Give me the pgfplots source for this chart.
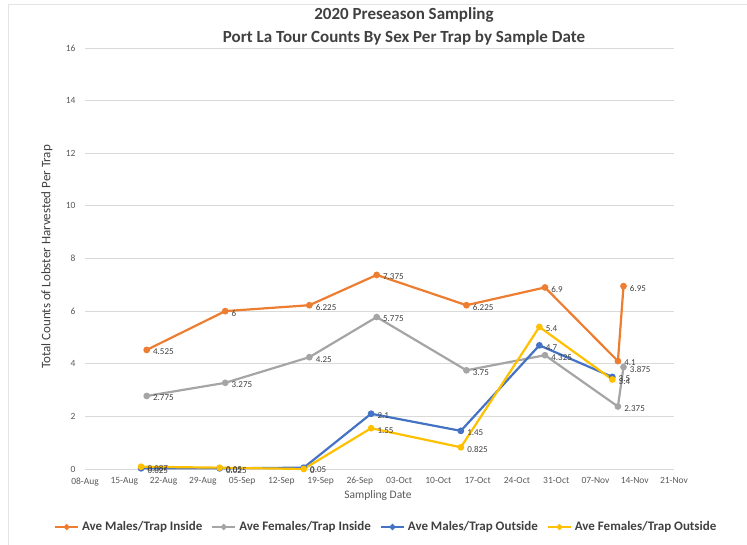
\documentclass[border=0pt]{standalone}
\usepackage{pgfplots}
\pgfplotsset{compat=1.18}
\usepackage{fontspec}
\setmainfont{Carlito}
\definecolor{cOr}{HTML}{ED7D31}
\definecolor{cGr}{HTML}{A5A5A5}
\definecolor{cBl}{HTML}{4472C4}
\definecolor{cYe}{HTML}{FFC000}
\definecolor{txt}{HTML}{595959}
\definecolor{dtxt}{HTML}{404040}
\definecolor{gridc}{HTML}{D9D9D9}
\begin{document}
\begin{tikzpicture}
\path[use as bounding box] (0,0) rectangle (747bp,545bp);
\draw[gridc!70, line width=0.6bp] (8bp,0) -- (8bp,541bp) -- (747bp,541bp);
\node[font=\fontsize{17bp}{18bp}\selectfont\bfseries, text=dtxt] at (404bp,530bp) {2020 Preseason Sampling};
\node[font=\fontsize{17bp}{18bp}\selectfont\bfseries, text=dtxt] at (404bp,507bp) {Port La Tour Counts By Sex Per Trap by Sample Date};
\node[font=\fontsize{13bp}{15bp}\selectfont, text=dtxt, rotate=90] at (47bp,288bp) {Total Counts of Lobster Harvested Per Trap};
\node[font=\fontsize{11.5bp}{13bp}\selectfont, text=txt] at (378bp,50bp) {Sampling Date};
\begin{axis}[
  at={(85bp,76bp)}, anchor=south west,
  scale only axis, width=589bp, height=421bp,
  xmin=0, xmax=105, ymin=0, ymax=16,
  xtick={0,7,...,105},
  xticklabels={08-Aug,15-Aug,22-Aug,29-Aug,05-Sep,12-Sep,19-Sep,26-Sep,03-Oct,10-Oct,17-Oct,24-Oct,31-Oct,07-Nov,14-Nov,21-Nov},
  ytick={0,2,...,16},
  /pgf/number format/assume math mode=true,
  axis line style={draw=none},
  tick style={draw=none},
  xmajorgrids=false, ymajorgrids=true,
  major grid style={draw=gridc, line width=0.8bp},
  tick label style={font=\fontsize{9.5bp}{11bp}\selectfont, text=txt},
  yticklabel style={xshift=-6bp},
  xticklabel style={yshift=-5bp},
  clip=false,
  legend columns=4,
  legend style={draw=none, fill=none, at={(0.5115,-0.1378)}, anchor=center,
    font=\fontsize{13bp}{15bp}\selectfont\bfseries, text=dtxt, inner sep=0pt,
    /tikz/every odd column/.append style={column sep=1bp},
    /tikz/every even column/.append style={column sep=7bp}},
  legend image code/.code={\draw[#1, line width=2bp] (0bp,0bp) -- (23bp,0bp); \draw[#1] plot[mark=*, mark size=1.8bp] coordinates {(11.5bp,0bp)};},
  every axis plot/.append style={line width=2.2bp, mark=*, mark size=2.2bp},
  point meta=explicit symbolic,
  nodes near coords,
  every node near coord/.append style={anchor=west, xshift=2bp, yshift=-2bp, font=\fontsize{9bp}{10bp}\selectfont, text=dtxt},
]
\addplot[color=cOr] table[meta=l] {
x y l
11 4.525 4.525
25 6 6
40 6.225 6.225
52 7.375 7.375
68 6.225 6.225
82 6.9 6.9
95 4.1 4.1
96 6.95 6.95
};
\addlegendentry{Ave Males/Trap Inside}
\addplot[color=cGr] table[meta=l] {
x y l
11 2.775 2.775
25 3.275 3.275
40 4.25 4.25
52 5.775 5.775
68 3.75 3.75
82 4.325 4.325
95 2.375 2.375
96 3.875 3.875
};
\addlegendentry{Ave Females/Trap Inside}
\addplot[color=cBl] table[meta=l] {
x y l
10 0.025 0.025
24 0.025 0.025
39 0.05 0.05
51 2.1 2.1
67 1.45 1.45
81 4.7 4.7
94 3.5 3.5
};
\addlegendentry{Ave Males/Trap Outside}
\addplot[color=cYe] table[meta=l] {
x y l
10 0.087 0.087
24 0.05 0.05
39 0 0
51 1.55 1.55
67 0.825 0.825
81 5.4 5.4
94 3.4 3.4
};
\addlegendentry{Ave Females/Trap Outside}
\end{axis}
\end{tikzpicture}
\end{document}
